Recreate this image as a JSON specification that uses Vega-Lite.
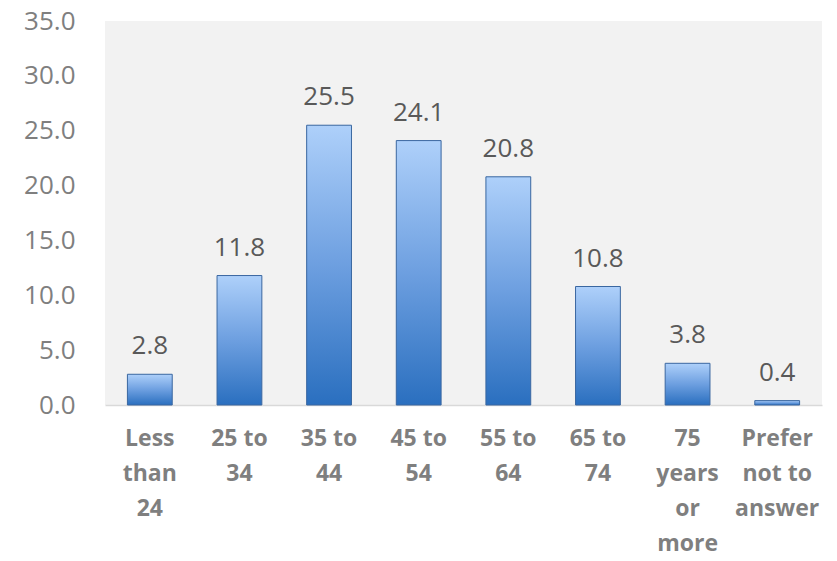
{
  "$schema": "https://vega.github.io/schema/vega-lite/v6.json",
  "width": 717,
  "height": 384,
  "autosize": {"type": "none"},
  "padding": {"left": 105, "top": 21, "right": 15, "bottom": 156},
  "background": "white",
  "config": {
    "view": {"fill": "#f2f2f2", "stroke": null},
    "font": "Open Sans"
  },
  "data": {
    "values": [
      {"age": "Less than 24", "pct": 2.8},
      {"age": "25 to 34", "pct": 11.8},
      {"age": "35 to 44", "pct": 25.5},
      {"age": "45 to 54", "pct": 24.1},
      {"age": "55 to 64", "pct": 20.8},
      {"age": "65 to 74", "pct": 10.8},
      {"age": "75 years or more", "pct": 3.8},
      {"age": "Prefer not to answer", "pct": 0.4}
    ]
  },
  "encoding": {
    "x": {
      "field": "age",
      "type": "nominal",
      "sort": null,
      "scale": {"paddingInner": 0.5, "paddingOuter": 0.25},
      "axis": {
        "title": null,
        "labelAngle": 0,
        "labelFont": "Open Sans",
        "labelFontSize": 23,
        "labelFontWeight": "bold",
        "labelColor": "#7f7f7f",
        "labelLineHeight": 35,
        "labelPadding": 22,
        "labelBaseline": "top",
        "labelLimit": 200,
        "ticks": false,
        "domainColor": "#d9d9d9",
        "domainWidth": 1.5,
        "labelExpr": "datum.label == 'Less than 24' ? ['Less','than','24'] : datum.label == '25 to 34' ? ['25 to','34'] : datum.label == '35 to 44' ? ['35 to','44'] : datum.label == '45 to 54' ? ['45 to','54'] : datum.label == '55 to 64' ? ['55 to','64'] : datum.label == '65 to 74' ? ['65 to','74'] : datum.label == '75 years or more' ? ['75','years','or','more'] : ['Prefer','not to','answer']"
      }
    },
    "y": {
      "field": "pct",
      "type": "quantitative",
      "scale": {"domain": [0, 35], "nice": false},
      "axis": {
        "title": null,
        "values": [0, 5, 10, 15, 20, 25, 30, 35],
        "format": ".1f",
        "grid": false,
        "domain": false,
        "ticks": false,
        "labelPadding": 30,
        "labelFont": "Open Sans",
        "labelFontSize": 26,
        "labelColor": "#7f7f7f"
      }
    }
  },
  "layer": [
    {
      "mark": {
        "type": "bar",
        "stroke": "#3a67a0",
        "strokeWidth": 1,
        "fill": {
          "gradient": "linear",
          "x1": 0, "y1": 0, "x2": 0, "y2": 1,
          "stops": [
            {"offset": 0, "color": "#aed0fa"},
            {"offset": 0.5, "color": "#6d9fe0"},
            {"offset": 1, "color": "#2a6fbf"}
          ]
        }
      }
    },
    {
      "mark": {
        "type": "text",
        "baseline": "alphabetic",
        "dy": -20,
        "font": "Open Sans",
        "fontSize": 26,
        "color": "#595959"
      },
      "encoding": {
        "text": {"field": "pct", "type": "quantitative", "format": ".1f"}
      }
    }
  ]
}
